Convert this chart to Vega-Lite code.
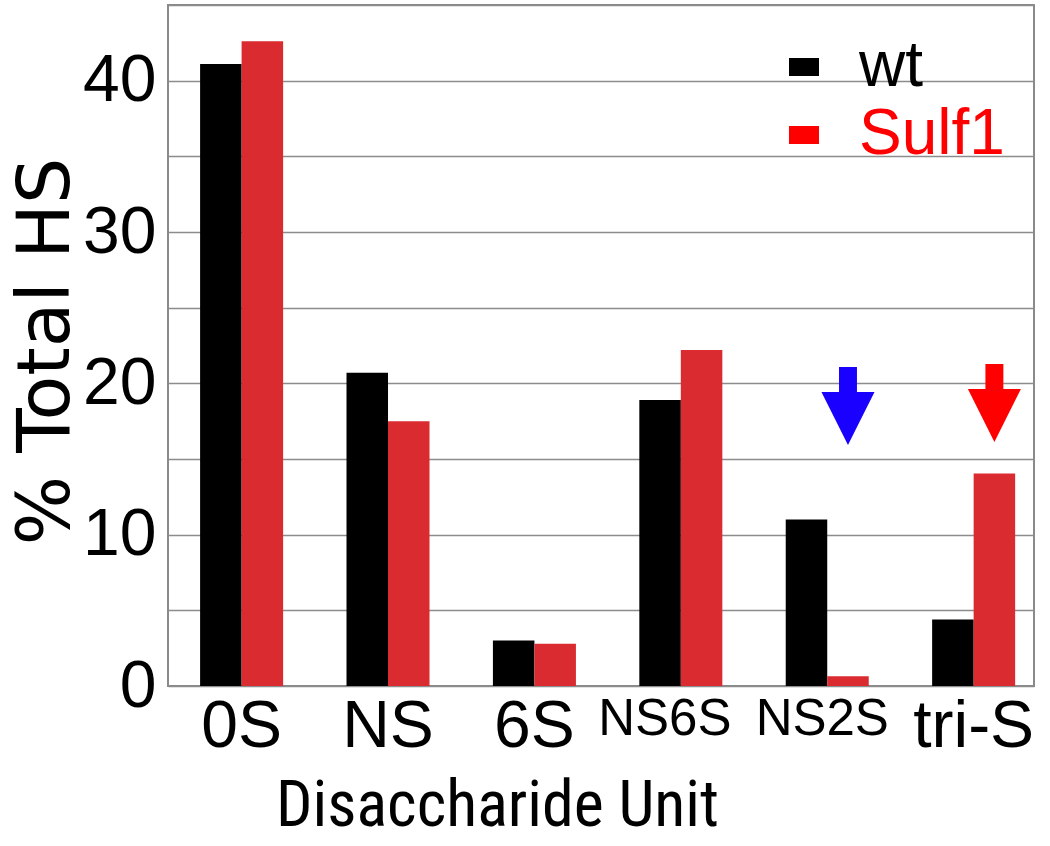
{
  "$schema": "https://vega.github.io/schema/vega-lite/v6.json",
  "width": 866,
  "height": 681,
  "autosize": {"type": "none"},
  "padding": {"left": 168, "top": 5, "right": 16, "bottom": 160},
  "background": "white",
  "config": {
    "view": {"stroke": "#8a8a8a", "strokeWidth": 2},
    "font": "Liberation Sans"
  },
  "layer": [
    {
      "data": {
        "values": [
          {"unit": "0S", "strain": "wt", "pct": 41.1},
          {"unit": "0S", "strain": "Sulf1", "pct": 42.6},
          {"unit": "NS", "strain": "wt", "pct": 20.7},
          {"unit": "NS", "strain": "Sulf1", "pct": 17.5},
          {"unit": "6S", "strain": "wt", "pct": 3.0},
          {"unit": "6S", "strain": "Sulf1", "pct": 2.8},
          {"unit": "NS6S", "strain": "wt", "pct": 18.9},
          {"unit": "NS6S", "strain": "Sulf1", "pct": 22.2},
          {"unit": "NS2S", "strain": "wt", "pct": 11.0},
          {"unit": "NS2S", "strain": "Sulf1", "pct": 0.65},
          {"unit": "tri-S", "strain": "wt", "pct": 4.4},
          {"unit": "tri-S", "strain": "Sulf1", "pct": 14.05}
        ]
      },
      "mark": {"type": "bar", "strokeWidth": 0},
      "encoding": {
        "x": {
          "field": "unit",
          "type": "nominal",
          "sort": null,
          "scale": {"paddingInner": 0.433, "paddingOuter": 0.174, "align": 0.63},
          "axis": {
            "title": "Disaccharide Unit",
            "labelAngle": 0,
            "ticks": false,
            "domain": false,
            "labelPadding": 8,
            "labelColor": "black",
            "labelFontSize": {"expr": "datum.value == 'NS6S' || datum.value == 'NS2S' ? 51 : 66"},
            "labelOffset": {"expr": "datum.value == 'NS6S' ? -16 : (datum.value == 'NS2S' ? -5 : 0)"},
            "labelBaseline": "top",
            "titleFont": "Roboto Condensed, Roboto, Liberation Sans",
            "titleFontSize": 64,
            "titleFontWeight": "normal",
            "titleColor": "black",
            "titleAnchor": "middle",
            "titleAlign": "center",
            "titleX": 329,
            "titleY": 139,
            "titleBaseline": "alphabetic"
          }
        },
        "xOffset": {"field": "strain", "type": "nominal", "sort": ["wt", "Sulf1"]},
        "y": {
          "field": "pct",
          "type": "quantitative",
          "scale": {"domain": [0, 45], "nice": false},
          "axis": {
            "title": "% Total HS",
            "values": [0, 5, 10, 15, 20, 25, 30, 35, 40, 45],
            "labelExpr": "datum.value % 10 == 0 ? datum.label : ''",
            "grid": true,
            "gridColor": "#8c8c8c",
            "gridWidth": 1.5,
            "ticks": false,
            "domain": false,
            "labelPadding": 12,
            "labelFontSize": 66,
            "labelColor": "black",
            "titleFont": "DejaVu Sans",
            "titleFontSize": 73,
            "titleFontWeight": "normal",
            "titleColor": "black",
            "titleAngle": -90,
            "titleAlign": "center",
            "titleBaseline": "alphabetic",
            "titleX": -100,
            "titleY": 346
          }
        },
        "color": {
          "field": "strain",
          "type": "nominal",
          "scale": {"domain": ["wt", "Sulf1"], "range": ["#000000", "#d92b30"]},
          "legend": null
        },
        "stroke": {
          "field": "strain",
          "type": "nominal",
          "sort": ["wt", "Sulf1"],
          "scale": {"range": ["#000000", "#ff0000"]},
          "legend": {
            "title": null,
            "orient": "none",
            "legendX": 604,
            "legendY": 30,
            "padding": 0,
            "symbolType": "M -1 0 L 1 0",
            "symbolSize": 900,
            "symbolStrokeWidth": 18,
            "symbolFillColor": "transparent",
            "labelFontSize": 64,
            "labelOffset": 23,
            "rowPadding": -6,
            "labelLimit": 400,
            "encode": {
              "labels": {"update": {"fill": {"signal": "datum.value == 'wt' ? '#000000' : '#ff0000'"}}}
            }
          }
        }
      }
    },
    {
      "data": {
        "values": [
          {"unit": "NS2S", "strain": "Sulf1", "pct": 18.5, "change": "NS2S loss"},
          {"unit": "tri-S", "strain": "Sulf1", "pct": 18.7, "change": "tri-S gain"}
        ]
      },
      "mark": {
        "type": "point",
        "filled": true,
        "opacity": 1,
        "size": 6084,
        "shape": "M -0.23 -1 L 0.23 -1 L 0.23 -0.36 L 0.68 -0.36 L 0 1 L -0.68 -0.36 L -0.23 -0.36 Z"
      },
      "encoding": {
        "x": {"field": "unit", "type": "nominal", "sort": null},
        "xOffset": {"field": "strain", "type": "nominal", "sort": ["wt", "Sulf1"]},
        "y": {"field": "pct", "type": "quantitative"},
        "fill": {
          "field": "change",
          "type": "nominal",
          "scale": {"domain": ["NS2S loss", "tri-S gain"], "range": ["#1a00ff", "#ff0000"]},
          "legend": null
        }
      }
    }
  ]
}
